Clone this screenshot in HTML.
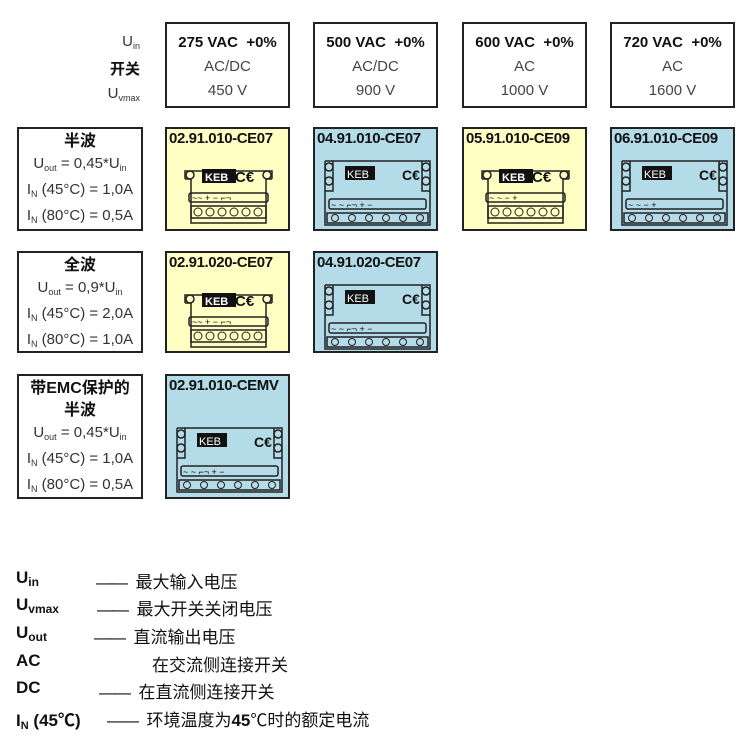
<!DOCTYPE html>
<html><head><meta charset="utf-8"><style>
body{margin:0;width:750px;height:748px;background:#fff;position:relative;font-family:"Liberation Sans","Noto Sans CJK SC",sans-serif;overflow:hidden}
.b{position:absolute;border:2px solid #222;box-sizing:border-box}
.h{text-align:center;font-size:15px;color:#444;line-height:24px;padding-top:7px}
.h b{color:#111}
.y{background:#ffffc4}.c{background:#b4dbe8}
.t{position:absolute;left:2px;top:1px;font-weight:bold;font-size:15px;letter-spacing:-0.4px;color:#111;white-space:nowrap}
.l{text-align:center;font-size:15px;color:#333;line-height:22px;padding-top:2px}
.l b{color:#111;font-size:16px}
sub{font-size:9px;vertical-align:-3px}
svg{position:absolute;left:0;top:0}
.lg{position:absolute;left:16px;font-size:17px;font-weight:bold;color:#111}
.lg span{font-weight:normal;position:absolute;white-space:nowrap;font-size:17px}
.d{font-size:17px;letter-spacing:-2px}
</style></head><body>
<div style="position:absolute;left:90px;top:30px;width:50px;text-align:right;font-size:15px;color:#333;line-height:24px">U<sub>in</sub><br><b style="color:#111">开关</b><br>U<sub>vmax</sub></div>
<div class="b h" style="left:165px;top:22px;width:125px;height:86px"><b>275 VAC &nbsp;+0%</b><br>AC/DC<br>450 V</div>
<div class="b h" style="left:313px;top:22px;width:125px;height:86px"><b>500 VAC &nbsp;+0%</b><br>AC/DC<br>900 V</div>
<div class="b h" style="left:462px;top:22px;width:125px;height:86px"><b>600 VAC &nbsp;+0%</b><br>AC<br>1000 V</div>
<div class="b h" style="left:610px;top:22px;width:125px;height:86px"><b>720 VAC &nbsp;+0%</b><br>AC<br>1600 V</div>

<div class="b l" style="left:17px;top:127px;width:126px;height:104px"><b>半波</b><br>U<sub>out</sub> = 0,45*U<sub>in</sub><br>I<sub>N</sub> (45°C) = 1,0A<br>I<sub>N</sub> (80°C) = 0,5A</div>
<div class="b l" style="left:17px;top:251px;width:126px;height:102px"><b>全波</b><br>U<sub>out</sub> = 0,9*U<sub>in</sub><br>I<sub>N</sub> (45°C) = 2,0A<br>I<sub>N</sub> (80°C) = 1,0A</div>
<div class="b l" style="left:17px;top:374px;width:126px;height:125px"><b>带EMC保护的<br>半波</b><br>U<sub>out</sub> = 0,45*U<sub>in</sub><br>I<sub>N</sub> (45°C) = 1,0A<br>I<sub>N</sub> (80°C) = 0,5A</div>

<div class="b y" style="left:165px;top:127px;width:125px;height:104px"><div class="t">02.91.010-CE07</div>
<svg width="125" height="104"><g fill="none" stroke="#222" stroke-width="1.5"><path d="M18 50 v-8 h87 v8 M24 50 v44 h75 v-44 M18 50 h6 M99 50 h6"/><circle cx="23" cy="46" r="4"/><circle cx="100" cy="46" r="4"/><rect x="22" y="64" width="79" height="9" rx="2"/><rect x="24" y="77" width="75" height="12"/></g><rect x="35" y="40" width="34" height="14" fill="#111"/><text x="38" y="52" font-size="11" font-weight="bold" fill="#fff">KEB</text><text x="68" y="53" font-size="15" font-weight="bold" fill="#111">C€</text><text x="25" y="72" font-size="9" fill="#111">~~ + − ⌐¬</text><g fill="none" stroke="#222"><circle cx="31" cy="83" r="4"/><circle cx="43" cy="83" r="4"/><circle cx="55" cy="83" r="4"/><circle cx="67" cy="83" r="4"/><circle cx="79" cy="83" r="4"/><circle cx="91" cy="83" r="4"/></g></svg></div>
<div class="b y" style="left:462px;top:127px;width:125px;height:104px"><div class="t">05.91.010-CE09</div>
<svg width="125" height="104"><g fill="none" stroke="#222" stroke-width="1.5"><path d="M18 50 v-8 h87 v8 M24 50 v44 h75 v-44 M18 50 h6 M99 50 h6"/><circle cx="23" cy="46" r="4"/><circle cx="100" cy="46" r="4"/><rect x="22" y="64" width="79" height="9" rx="2"/><rect x="24" y="77" width="75" height="12"/></g><rect x="35" y="40" width="34" height="14" fill="#111"/><text x="38" y="52" font-size="11" font-weight="bold" fill="#fff">KEB</text><text x="68" y="53" font-size="15" font-weight="bold" fill="#111">C€</text><text x="25" y="72" font-size="9" fill="#111">~   ~ −     +</text><g fill="none" stroke="#222"><circle cx="31" cy="83" r="4"/><circle cx="43" cy="83" r="4"/><circle cx="55" cy="83" r="4"/><circle cx="67" cy="83" r="4"/><circle cx="79" cy="83" r="4"/><circle cx="91" cy="83" r="4"/></g></svg></div>
<div class="b y" style="left:165px;top:251px;width:125px;height:102px"><div class="t">02.91.020-CE07</div>
<svg width="125" height="102"><g fill="none" stroke="#222" stroke-width="1.5"><path d="M18 50 v-8 h87 v8 M24 50 v44 h75 v-44 M18 50 h6 M99 50 h6"/><circle cx="23" cy="46" r="4"/><circle cx="100" cy="46" r="4"/><rect x="22" y="64" width="79" height="9" rx="2"/><rect x="24" y="77" width="75" height="12"/></g><rect x="35" y="40" width="34" height="14" fill="#111"/><text x="38" y="52" font-size="11" font-weight="bold" fill="#fff">KEB</text><text x="68" y="53" font-size="15" font-weight="bold" fill="#111">C€</text><text x="25" y="72" font-size="9" fill="#111">~~ + − ⌐¬</text><g fill="none" stroke="#222"><circle cx="31" cy="83" r="4"/><circle cx="43" cy="83" r="4"/><circle cx="55" cy="83" r="4"/><circle cx="67" cy="83" r="4"/><circle cx="79" cy="83" r="4"/><circle cx="91" cy="83" r="4"/></g></svg></div>

<div class="b c" style="left:313px;top:127px;width:125px;height:104px"><div class="t">04.91.010-CE07</div>
<svg width="125" height="104"><g fill="none" stroke="#222" stroke-width="1.5"><path d="M10 32 h105 v30 h-8 v-30 M10 32 v30 h8 v-30 M10 62 v34 h105 v-34"/><circle cx="14" cy="38" r="4"/><circle cx="14" cy="52" r="4"/><circle cx="111" cy="38" r="4"/><circle cx="111" cy="52" r="4"/><rect x="14" y="70" width="97" height="10" rx="2"/><path d="M12 84 h101 v10 h-101z"/></g><rect x="30" y="37" width="30" height="14" fill="#111"/><text x="32" y="49" font-size="11" fill="#fff">KEB</text><text x="87" y="51" font-size="14" font-weight="bold" fill="#111">C€</text><text x="16" y="79" font-size="9" fill="#111">~  ~  ⌐¬  +  −</text><g fill="none" stroke="#222"><circle cx="20" cy="89" r="3.5"/><circle cx="37" cy="89" r="3.5"/><circle cx="54" cy="89" r="3.5"/><circle cx="71" cy="89" r="3.5"/><circle cx="88" cy="89" r="3.5"/><circle cx="105" cy="89" r="3.5"/></g></svg></div>
<div class="b c" style="left:610px;top:127px;width:125px;height:104px"><div class="t">06.91.010-CE09</div>
<svg width="125" height="104"><g fill="none" stroke="#222" stroke-width="1.5"><path d="M10 32 h105 v30 h-8 v-30 M10 32 v30 h8 v-30 M10 62 v34 h105 v-34"/><circle cx="14" cy="38" r="4"/><circle cx="14" cy="52" r="4"/><circle cx="111" cy="38" r="4"/><circle cx="111" cy="52" r="4"/><rect x="14" y="70" width="97" height="10" rx="2"/><path d="M12 84 h101 v10 h-101z"/></g><rect x="30" y="37" width="30" height="14" fill="#111"/><text x="32" y="49" font-size="11" fill="#fff">KEB</text><text x="87" y="51" font-size="14" font-weight="bold" fill="#111">C€</text><text x="16" y="79" font-size="9" fill="#111">~      ~  −      +</text><g fill="none" stroke="#222"><circle cx="20" cy="89" r="3.5"/><circle cx="37" cy="89" r="3.5"/><circle cx="54" cy="89" r="3.5"/><circle cx="71" cy="89" r="3.5"/><circle cx="88" cy="89" r="3.5"/><circle cx="105" cy="89" r="3.5"/></g></svg></div>
<div class="b c" style="left:313px;top:251px;width:125px;height:102px"><div class="t">04.91.020-CE07</div>
<svg width="125" height="102"><g fill="none" stroke="#222" stroke-width="1.5"><path d="M10 32 h105 v30 h-8 v-30 M10 32 v30 h8 v-30 M10 62 v34 h105 v-34"/><circle cx="14" cy="38" r="4"/><circle cx="14" cy="52" r="4"/><circle cx="111" cy="38" r="4"/><circle cx="111" cy="52" r="4"/><rect x="14" y="70" width="97" height="10" rx="2"/><path d="M12 84 h101 v10 h-101z"/></g><rect x="30" y="37" width="30" height="14" fill="#111"/><text x="32" y="49" font-size="11" fill="#fff">KEB</text><text x="87" y="51" font-size="14" font-weight="bold" fill="#111">C€</text><text x="16" y="79" font-size="9" fill="#111">~  ~  ⌐¬  +  −</text><g fill="none" stroke="#222"><circle cx="20" cy="89" r="3.5"/><circle cx="37" cy="89" r="3.5"/><circle cx="54" cy="89" r="3.5"/><circle cx="71" cy="89" r="3.5"/><circle cx="88" cy="89" r="3.5"/><circle cx="105" cy="89" r="3.5"/></g></svg></div>
<div class="b c" style="left:165px;top:374px;width:125px;height:125px"><div class="t">02.91.010-CEMV</div>
<svg width="125" height="125"><g fill="none" stroke="#222" stroke-width="1.5"><path d="M10 52 h105 v30 h-8 v-30 M10 52 v30 h8 v-30 M10 82 v34 h105 v-34"/><circle cx="14" cy="58" r="4"/><circle cx="14" cy="72" r="4"/><circle cx="111" cy="58" r="4"/><circle cx="111" cy="72" r="4"/><rect x="14" y="90" width="97" height="10" rx="2"/><path d="M12 104 h101 v10 h-101z"/></g><rect x="30" y="57" width="30" height="14" fill="#111"/><text x="32" y="69" font-size="11" fill="#fff">KEB</text><text x="87" y="71" font-size="14" font-weight="bold" fill="#111">C€</text><text x="16" y="99" font-size="9" fill="#111">~  ~  ⌐¬  +  −</text><g fill="none" stroke="#222"><circle cx="20" cy="109" r="3.5"/><circle cx="37" cy="109" r="3.5"/><circle cx="54" cy="109" r="3.5"/><circle cx="71" cy="109" r="3.5"/><circle cx="88" cy="109" r="3.5"/><circle cx="105" cy="109" r="3.5"/></g></svg></div>

<div class="lg" style="top:568px">U<sub style="font-size:12px">in</sub><span style="left:80px"><span class="d" style="position:static">——</span>&nbsp; 最大输入电压</span></div>
<div class="lg" style="top:595px">U<sub style="font-size:12px">vmax</sub><span style="left:81px"><span class="d" style="position:static">——</span>&nbsp; 最大开关关闭电压</span></div>
<div class="lg" style="top:623px">U<sub style="font-size:12px">out</sub><span style="left:78px"><span class="d" style="position:static">——</span>&nbsp; 直流输出电压</span></div>
<div class="lg" style="top:651px">AC<span style="left:136px">在交流侧连接开关</span></div>
<div class="lg" style="top:678px">DC<span style="left:83px"><span class="d" style="position:static">——</span>&nbsp; 在直流侧连接开关</span></div>
<div class="lg" style="top:706px">I<sub style="font-size:11px">N</sub> (45℃)<span style="left:91px"><span class="d" style="position:static">——</span>&nbsp; 环境温度为<b>45</b>℃时的额定电流</span></div>
</body></html>
